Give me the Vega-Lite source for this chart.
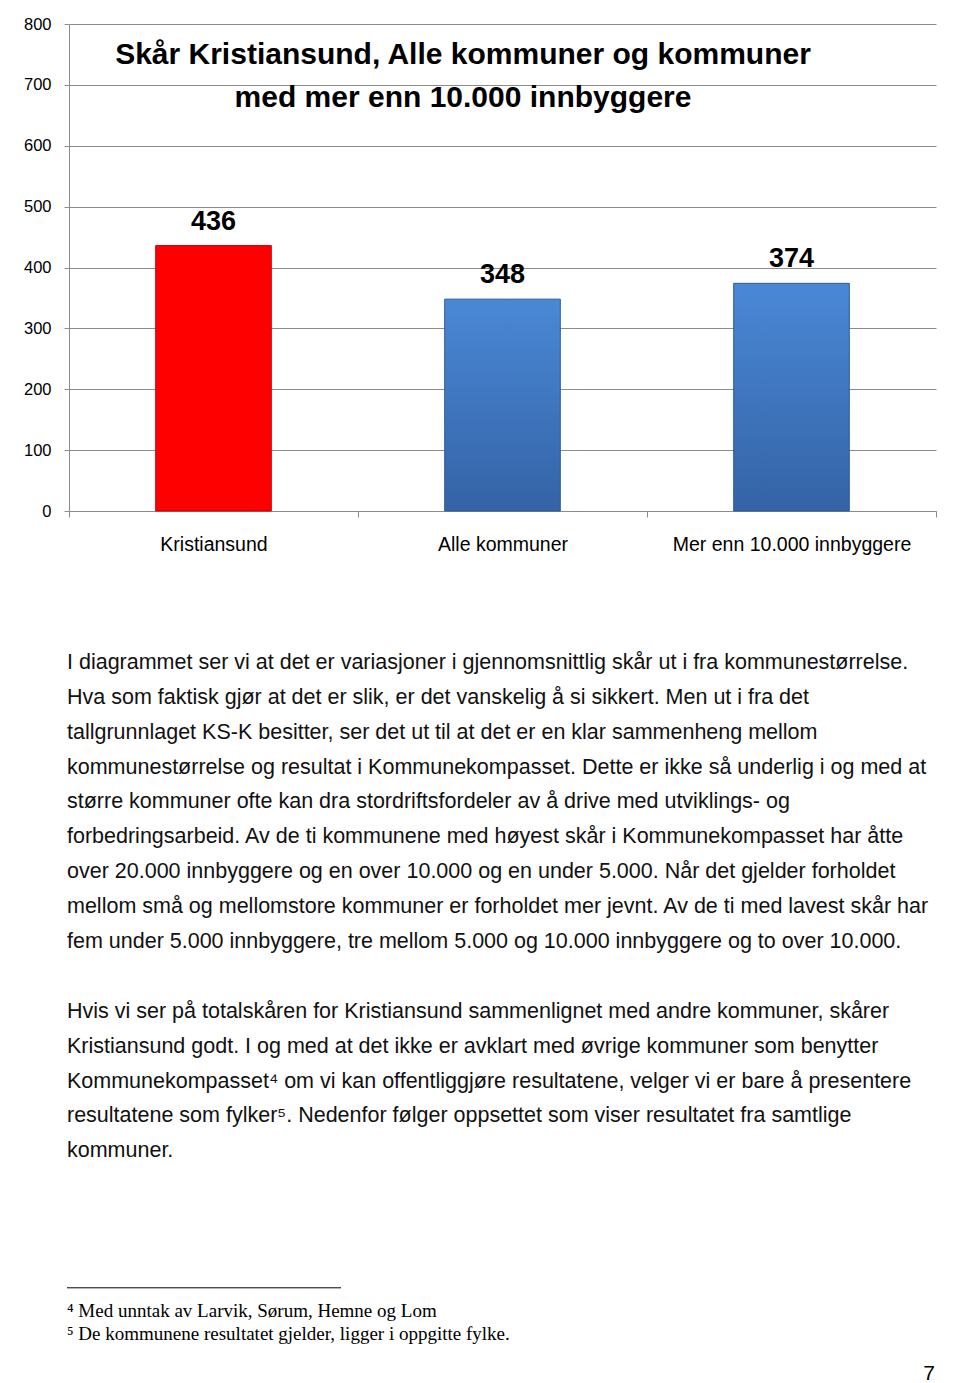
{
  "$schema": "https://vega.github.io/schema/vega-lite/v6.json",
  "autosize": {"type": "pad"},
  "padding": {"left": 23, "top": 16, "right": 25, "bottom": 0},
  "bounds": "flush",
  "spacing": 114,
  "background": "#ffffff",
  "config": {
    "view": {"stroke": null},
    "font": "Liberation Sans"
  },
  "datasets": {
    "skaar": [
      {"kategori": "Kristiansund", "skaar": 436},
      {"kategori": "Alle kommuner", "skaar": 348},
      {"kategori": "Mer enn 10.000 innbyggere", "skaar": 374}
    ],
    "avsnitt": [
      {"linje": 0, "tekst": "I diagrammet ser vi at det er variasjoner i gjennomsnittlig skår ut i fra kommunestørrelse."},
      {"linje": 1, "tekst": "Hva som faktisk gjør at det er slik, er det vanskelig å si sikkert. Men ut i fra det"},
      {"linje": 2, "tekst": "tallgrunnlaget KS-K besitter, ser det ut til at det er en klar sammenheng mellom"},
      {"linje": 3, "tekst": "kommunestørrelse og resultat i Kommunekompasset. Dette er ikke så underlig i og med at"},
      {"linje": 4, "tekst": "større kommuner ofte kan dra stordriftsfordeler av å drive med utviklings- og"},
      {"linje": 5, "tekst": "forbedringsarbeid. Av de ti kommunene med høyest skår i Kommunekompasset har åtte"},
      {"linje": 6, "tekst": "over 20.000 innbyggere og en over 10.000 og en under 5.000. Når det gjelder forholdet"},
      {"linje": 7, "tekst": "mellom små og mellomstore kommuner er forholdet mer jevnt. Av de ti med lavest skår har"},
      {"linje": 8, "tekst": "fem under 5.000 innbyggere, tre mellom 5.000 og 10.000 innbyggere og to over 10.000."},
      {"linje": 10, "tekst": "Hvis vi ser på totalskåren for Kristiansund sammenlignet med andre kommuner, skårer"},
      {"linje": 11, "tekst": "Kristiansund godt. I og med at det ikke er avklart med øvrige kommuner som benytter"},
      {"linje": 12, "tekst": "Kommunekompasset⁴ om vi kan offentliggjøre resultatene, velger vi er bare å presentere"},
      {"linje": 13, "tekst": "resultatene som fylker⁵.  Nedenfor følger oppsettet som viser resultatet fra samtlige"},
      {"linje": 14, "tekst": "kommuner."}
    ],
    "fotnoter": [
      {"linje": 18.62, "tekst": "⁴ Med unntak av Larvik, Sørum, Hemne og Lom"},
      {"linje": 19.26, "tekst": "⁵ De kommunene resultatet gjelder, ligger i oppgitte fylke."}
    ],
    "strek": [
      {"linje": 18.0, "fra": 0, "til": 274}
    ],
    "side": [
      {"linje": 20.4, "kol": 862, "tekst": "7"}
    ]
  },
  "vconcat": [
    {
      "width": 867,
      "height": 487,
      "title": {
        "text": ["Skår Kristiansund, Alle kommuner og kommuner", "med mer enn 10.000 innbyggere"],
        "font": "Liberation Sans",
        "fontSize": 30,
        "fontWeight": "bold",
        "color": "#000000",
        "anchor": "middle",
        "offset": 0,
        "lineHeight": 43,
        "dx": -39.5,
        "dy": 97
      },
      "data": {"name": "skaar"},
      "encoding": {
        "x": {
          "field": "kategori",
          "type": "nominal",
          "sort": null,
          "scale": {"paddingInner": 0, "paddingOuter": 0},
          "axis": {
            "title": null,
            "labelAngle": 0,
            "labelLimit": 500,
            "tickBand": "extent",
            "domainColor": "#8c8c8c",
            "tickColor": "#8c8c8c",
            "tickSize": 6,
            "labelFont": "Liberation Sans",
            "labelFontSize": 19.5,
            "labelColor": "#000000",
            "labelPadding": 18
          }
        },
        "y": {
          "field": "skaar",
          "type": "quantitative",
          "scale": {"domain": [0, 800], "nice": false},
          "axis": {
            "title": null,
            "values": [0, 100, 200, 300, 400, 500, 600, 700, 800],
            "gridColor": "#8c8c8c",
            "domainColor": "#8c8c8c",
            "tickColor": "#8c8c8c",
            "tickSize": 5,
            "labelFont": "Liberation Sans",
            "labelFontSize": 16.5,
            "labelColor": "#000000",
            "labelPadding": 13
          }
        }
      },
      "layer": [
        {
          "mark": {"type": "bar", "width": {"band": 0.4}, "strokeWidth": 1},
          "encoding": {
            "color": {
              "condition": {"test": "datum.kategori === 'Kristiansund'", "value": "#ff0000"},
              "value": {
                "gradient": "linear", "x1": 0, "y1": 0, "x2": 0, "y2": 1,
                "stops": [
                  {"offset": 0, "color": "#4a88d6"},
                  {"offset": 1, "color": "#3463a6"}
                ]
              }
            },
            "stroke": {
              "condition": {"test": "datum.kategori === 'Kristiansund'", "value": "#c80000"},
              "value": "#2c5a96"
            }
          }
        },
        {
          "mark": {"type": "text", "dy": -24, "baseline": "middle", "fontSize": 27, "fontWeight": "bold", "font": "Liberation Sans", "color": "#000000"},
          "encoding": {"text": {"field": "skaar", "type": "quantitative"}}
        }
      ]
    },
    {
      "width": 867,
      "height": 757,
      "layer": [
        {
          "data": {"name": "avsnitt"},
          "mark": {"type": "text", "align": "left", "baseline": "middle", "dy": 3, "font": "Liberation Sans", "fontSize": 21.5, "color": "#111111"},
          "encoding": {
            "x": {"datum": 0, "type": "quantitative", "scale": {"domain": [2, 869], "nice": false, "zero": false}, "axis": null},
            "y": {"field": "linje", "type": "quantitative", "scale": {"domain": [-1, 20.7], "nice": false, "zero": false, "reverse": true}, "axis": null},
            "text": {"field": "tekst"}
          }
        },
        {
          "data": {"name": "fotnoter"},
          "mark": {"type": "text", "align": "left", "baseline": "middle", "dy": 2, "font": "Liberation Serif", "fontSize": 19, "color": "#000000"},
          "encoding": {
            "x": {"datum": 0, "type": "quantitative"},
            "y": {"field": "linje", "type": "quantitative"},
            "text": {"field": "tekst"}
          }
        },
        {
          "data": {"name": "strek"},
          "mark": {"type": "rule", "color": "#000000", "strokeWidth": 1},
          "encoding": {
            "x": {"field": "fra", "type": "quantitative"},
            "x2": {"field": "til"},
            "y": {"field": "linje", "type": "quantitative"}
          }
        },
        {
          "data": {"name": "side"},
          "mark": {"type": "text", "align": "center", "baseline": "middle", "dy": 2, "font": "Liberation Sans", "fontSize": 21, "color": "#000000"},
          "encoding": {
            "x": {"field": "kol", "type": "quantitative"},
            "y": {"field": "linje", "type": "quantitative"},
            "text": {"field": "tekst"}
          }
        }
      ]
    }
  ]
}
